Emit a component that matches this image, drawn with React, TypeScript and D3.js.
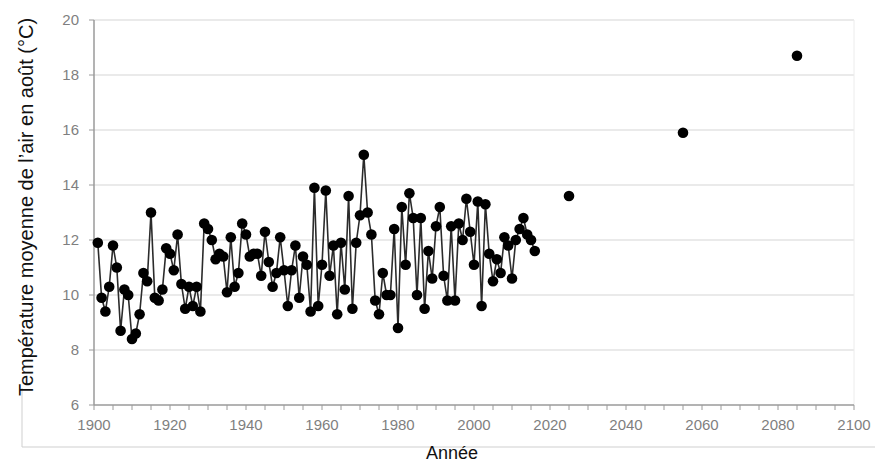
import React from "react";
import * as d3 from "d3";

// Historical August mean air temperature, one value per year starting at histStartYear
const histStartYear = 1901;
const histValues = [
  11.9, 9.9, 9.4, 10.3, 11.8, 11.0, 8.7, 10.2, 10.0, 8.4,
  8.6, 9.3, 10.8, 10.5, 13.0, 9.9, 9.8, 10.2, 11.7, 11.5,
  10.9, 12.2, 10.4, 9.5, 10.3, 9.6, 10.3, 9.4, 12.6, 12.4,
  12.0, 11.3, 11.5, 11.4, 10.1, 12.1, 10.3, 10.8, 12.6, 12.2,
  11.4, 11.5, 11.5, 10.7, 12.3, 11.2, 10.3, 10.8, 12.1, 10.9,
  9.6, 10.9, 11.8, 9.9, 11.4, 11.1, 9.4, 13.9, 9.6, 11.1,
  13.8, 10.7, 11.8, 9.3, 11.9, 10.2, 13.6, 9.5, 11.9, 12.9,
  15.1, 13.0, 12.2, 9.8, 9.3, 10.8, 10.0, 10.0, 12.4, 8.8,
  13.2, 11.1, 13.7, 12.8, 10.0, 12.8, 9.5, 11.6, 10.6, 12.5,
  13.2, 10.7, 9.8, 12.5, 9.8, 12.6, 12.0, 13.5, 12.3, 11.1,
  13.4, 9.6, 13.3, 11.5, 10.5, 11.3, 10.8, 12.1, 11.8, 10.6,
  12.0, 12.4, 12.8, 12.2, 12.0, 11.6,
];

// Projected points
const projYears = [2025, 2055, 2085];
const projValues = [13.6, 15.9, 18.7];

const xTickLabels = [1900, 1920, 1940, 1960, 1980, 2000, 2020, 2040, 2060, 2080, 2100];
const yTickLabels = [6, 8, 10, 12, 14, 16, 18, 20];

const W = 875;
const H = 463;

export default function App() {
  const x = d3.scaleLinear().domain([1900, 2100]).range([94, 854]);
  const y = d3.scaleLinear().domain([6, 20]).range([405, 20]);

  const hist = histValues.map((v, i) => ({ year: histStartYear + i, v }));
  const proj = projYears.map((yr, i) => ({ year: yr, v: projValues[i] }));

  const line = d3
    .line<{ year: number; v: number }>()
    .x((d) => x(d.year))
    .y((d) => y(d.v));

  const minorTicks = d3.range(1900, 2101, 5);
  const tickFont = "'Liberation Sans Narrow', 'Liberation Sans', Arial, sans-serif";
  const titleFont = "'Liberation Sans', Arial, sans-serif";
  const x0 = x(1900);
  const x1 = x(2100);

  return (
    <svg
      width={W}
      height={H}
      style={{ position: "absolute", left: 0, top: 0, background: "#fff" }}
    >
      <rect x={0} y={0} width={W} height={H} fill="#fff" />
      {/* outer frame fragments */}
      <line x1={22} y1={388} x2={22} y2={447} stroke="#cfcfcf" strokeWidth={1} />
      <line x1={22} y1={447} x2={W} y2={447} stroke="#cfcfcf" strokeWidth={1} />

      {/* gridlines */}
      {yTickLabels.filter((t) => t > 6).map((t) => (
        <line key={"g" + t} x1={x0} x2={x1} y1={y(t)} y2={y(t)} stroke="#e3e3e3" strokeWidth={1.5} />
      ))}
      <line x1={x1} x2={x1} y1={y(20)} y2={y(6)} stroke="#ececec" strokeWidth={1} />

      {/* y axis */}
      <line x1={x0} x2={x0} y1={y(20)} y2={y(6)} stroke="#9a9a9a" strokeWidth={1.5} />
      {yTickLabels.map((t) => (
        <g key={"y" + t}>
          <line x1={x0 - 5} x2={x0} y1={y(t)} y2={y(t)} stroke="#9a9a9a" strokeWidth={1} />
          <text
            x={x0 - 15}
            y={y(t)}
            dy="0.35em"
            textAnchor="end"
            fontFamily={tickFont}
            fontSize={15}
            fill="#7f7f7f"
          >
            {t}
          </text>
        </g>
      ))}

      {/* x axis */}
      <line x1={x0} x2={x1} y1={y(6)} y2={y(6)} stroke="#9a9a9a" strokeWidth={1.5} />
      {minorTicks.map((t) => (
        <line key={"t" + t} x1={x(t)} x2={x(t)} y1={y(6)} y2={y(6) + 5} stroke="#9a9a9a" strokeWidth={1} />
      ))}
      {xTickLabels.map((t) => (
        <text
          key={"x" + t}
          x={x(t)}
          y={y(6) + 20}
          dy="0.35em"
          textAnchor="middle"
          fontFamily={tickFont}
          fontSize={15}
          fill="#7f7f7f"
        >
          {t}
        </text>
      ))}

      {/* axis titles */}
      <text
        transform={`translate(26, ${207}) rotate(-90)`}
        textAnchor="middle"
        dy="0.35em"
        fontFamily={titleFont}
        fontSize={20}
        fill="#111"
      >
        Température moyenne de l’air en août (°C)
      </text>
      <text x={452} y={459} textAnchor="middle" fontFamily={titleFont} fontSize={18} fill="#111">
        Année
      </text>

      {/* series */}
      <path d={line(hist) || ""} fill="none" stroke="#2b2b2b" strokeWidth={1.6} />
      {hist.map((d) => (
        <circle key={"h" + d.year} cx={x(d.year)} cy={y(d.v)} r={5.3} fill="#000" />
      ))}
      {proj.map((d) => (
        <circle key={"p" + d.year} cx={x(d.year)} cy={y(d.v)} r={5.3} fill="#000" />
      ))}
    </svg>
  );
}
